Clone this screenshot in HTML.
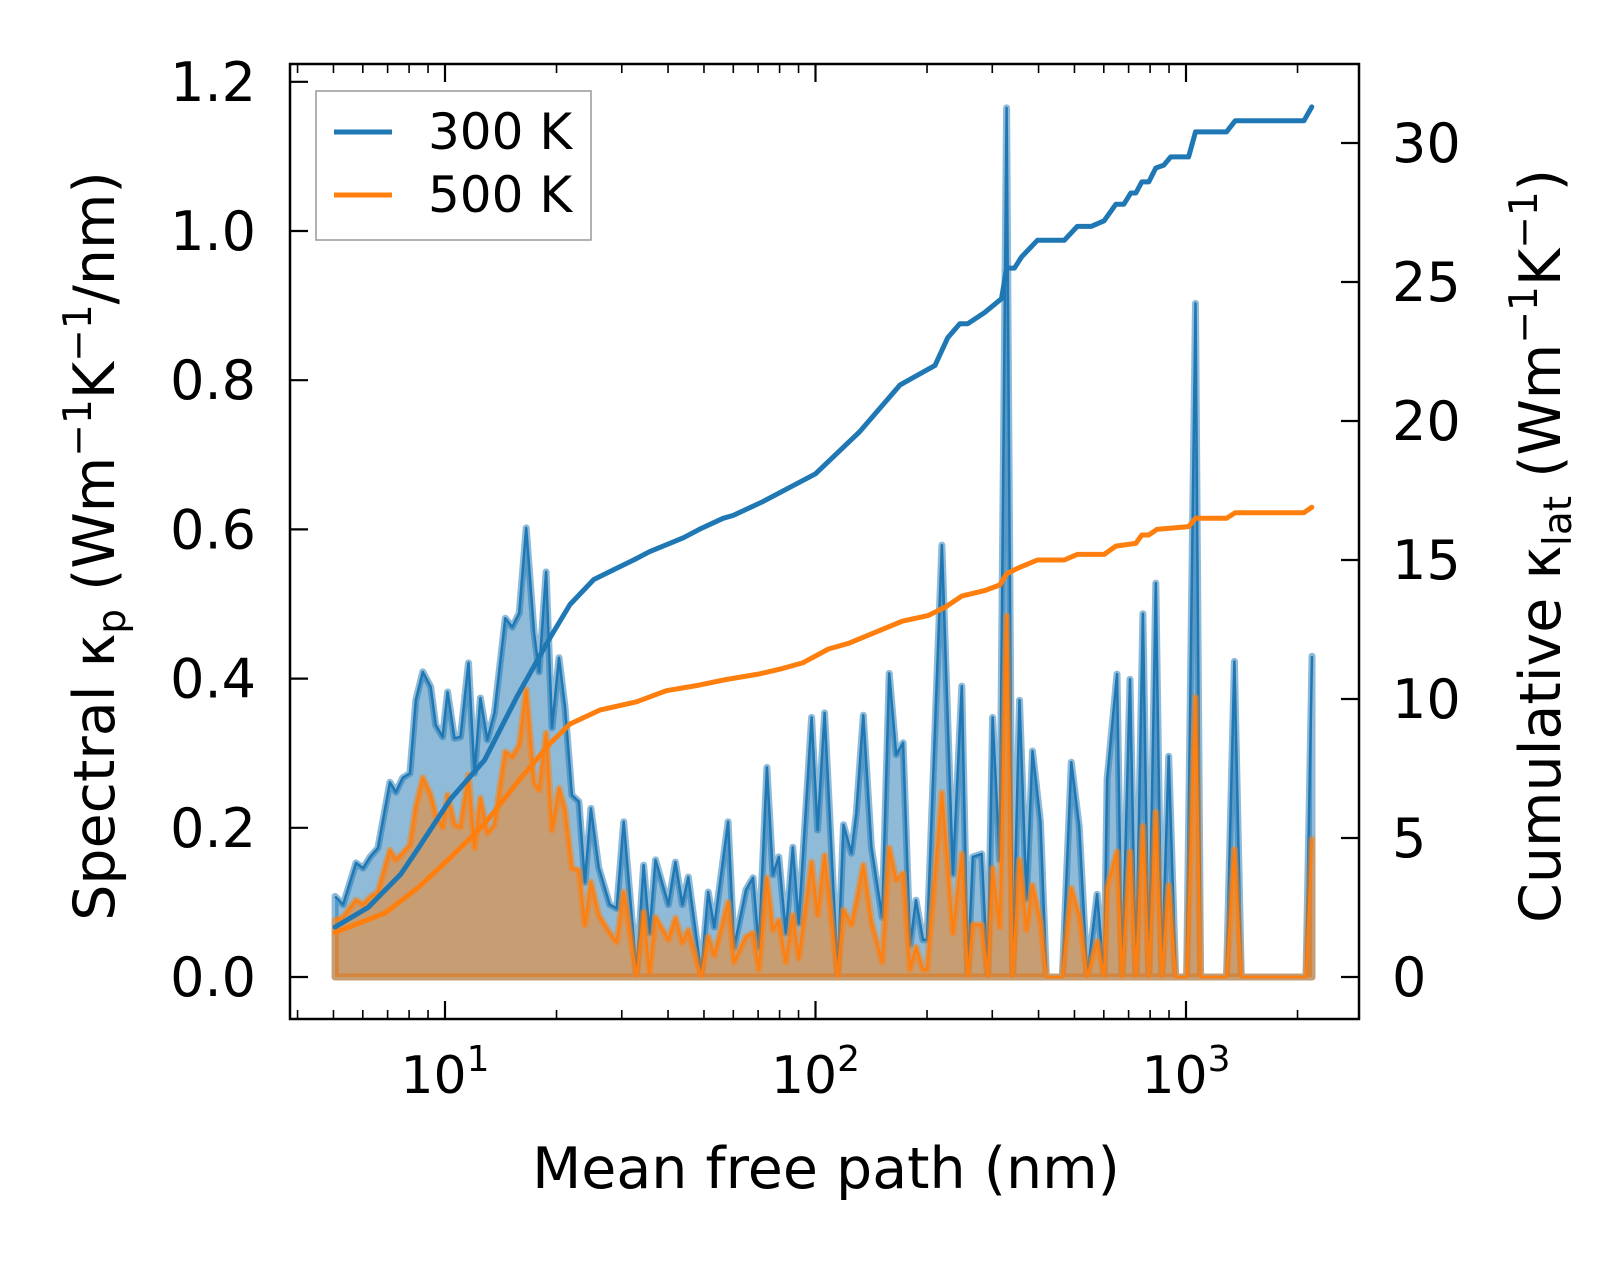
<!DOCTYPE html>
<html><head><meta charset="utf-8"><style>
html,body{margin:0;padding:0;background:#fff}
svg text{font-family:"DejaVu Sans","Liberation Sans",sans-serif;fill:#000}
</style></head><body>
<svg id="chart" width="1623" height="1259" viewBox="0 0 1623 1259" xmlns="http://www.w3.org/2000/svg">
<g id="plot"></g>
</svg>
<script>
// Spectral data (shared x)
const mfp = [5.05,5.31,5.75,6.01,6.28,6.59,7.10,7.37,7.69,8.04,8.34,8.71,9.15,9.44,9.85,10.16,10.61,11.01,11.57,12.01,12.46,13.01,13.59,14.55,15.19,15.86,16.56,17.40,17.95,18.74,19.45,20.31,21.08,22.01,22.98,23.86,24.76,26.00,27.84,29.07,30.36,32.89,34.35,35.65,36.99,40.09,41.87,43.72,45.37,49.15,51.33,53.27,58.08,60.28,64.93,67.81,70.36,73.93,76.72,79.62,83.15,86.83,90.1,97.6,101.3,105.8,114.7,119.0,125.0,128.9,134.6,141.5,151.4,158.1,165.1,172.4,180.0,186.8,195.1,200.0,219.4,234.9,248.3,257.7,265.8,281.0,291.6,300.7,314.1,328.0,340.4,355.4,371.1,385.1,404.6,420.0,463.6,490.1,515.0,541.1,575.6,601.1,612.3,651.4,671.8,706.0,732.6,764.9,793.8,828.9,860.2,898.3,938.1,1004,1061,1095,1286,1351,1410,2108,2188];
const spec300 = [0.108,0.097,0.153,0.146,0.161,0.173,0.261,0.248,0.267,0.273,0.371,0.409,0.389,0.338,0.322,0.382,0.320,0.322,0.421,0.273,0.374,0.318,0.354,0.481,0.469,0.488,0.602,0.461,0.409,0.543,0.334,0.428,0.362,0.244,0.235,0.127,0.226,0.147,0.097,0.092,0.208,0.005,0.150,0.059,0.157,0.097,0.154,0.097,0.134,0.005,0.114,0.067,0.208,0.040,0.117,0.133,0.040,0.281,0.137,0.161,0.059,0.174,0.072,0.348,0.197,0.354,0.005,0.204,0.166,0.220,0.351,0.174,0.080,0.407,0.298,0.314,0.043,0.103,0.050,0.050,0.579,0.138,0.390,0.005,0.161,0.165,0,0.348,0.157,1.165,0,0.371,0.105,0.303,0.209,0,0,0.288,0.202,0,0.111,0,0.265,0.406,0,0.399,0,0.487,0,0.528,0,0.296,0,0,0.903,0,0,0.423,0,0,0.43];
const spec500 = [0.076,0.080,0.103,0.097,0.107,0.114,0.170,0.157,0.166,0.177,0.228,0.267,0.244,0.217,0.201,0.244,0.204,0.201,0.271,0.173,0.240,0.193,0.204,0.302,0.295,0.311,0.385,0.260,0.251,0.327,0.197,0.253,0.224,0.146,0.143,0.070,0.127,0.083,0.059,0.047,0.114,0,0.087,0.005,0.080,0.050,0.079,0.046,0.063,0,0.054,0.029,0.100,0.020,0.054,0.059,0.010,0.133,0.063,0.076,0.020,0.083,0.025,0.154,0.083,0.163,0,0.090,0.070,0.100,0.150,0.074,0.020,0.173,0.130,0.139,0.010,0.040,0.010,0.010,0.247,0.059,0.165,0,0.070,0.070,0,0.146,0.067,0.484,0,0.157,0.063,0.123,0.074,0,0,0.119,0.082,0,0.048,0,0.119,0.168,0,0.168,0,0.202,0,0.221,0,0.123,0,0,0.375,0,0,0.171,0,0,0.185];
// Cumulative data
const cumX300 = [5.05,6.20,7.60,8.44,10.35,12.78,15.66,19.21,21.74,25.21,29.07,32.28,35.65,43.98,48.55,56.3,59.9,72.1,100,131.3,169.2,210.1,227.6,245.1,257.7,286.1,317.8,328.0,344.5,359.7,397.2,469.4,508.6,554.4,601.1,646.9,679.7,709.7,732.6,759.6,793.8,828.9,870.9,909.1,1016,1061,1286,1358,2081,2186];
const cum300 = [1.8,2.5,3.7,4.6,6.4,7.8,10.1,12.2,13.4,14.3,14.7,15.0,15.3,15.8,16.1,16.5,16.6,17.1,18.1,19.6,21.3,22.0,23.0,23.5,23.5,23.9,24.4,25.5,25.5,25.9,26.5,26.5,27.0,27.0,27.2,27.8,27.8,28.2,28.2,28.6,28.6,29.1,29.2,29.5,29.5,30.4,30.4,30.8,30.8,31.3];
const cumX500 = [5.05,6.88,8.44,10.35,12.78,15.66,19.21,21.74,26.16,32.89,39.58,48.55,57.4,70.4,81.6,92.3,108.4,122.7,145.0,171.4,201.2,223.6,248.3,286.1,314.1,328.0,350.9,397.2,469.4,508.6,601.1,646.9,732.6,759.6,793.8,833.9,1016,1061,1286,1358,2081,2186];
const cum500 = [1.6,2.3,3.2,4.3,5.5,7.0,8.4,9.1,9.6,9.9,10.3,10.5,10.7,10.9,11.1,11.3,11.8,12.0,12.4,12.8,13.0,13.3,13.7,13.9,14.1,14.5,14.7,15.0,15.0,15.2,15.2,15.5,15.6,15.9,15.9,16.1,16.2,16.5,16.5,16.7,16.7,16.9];
const yTicksL = [0.0,0.2,0.4,0.6,0.8,1.0,1.2];
const yTicksR = [0,5,10,15,20,25,30];
const xDecades = [1,2,3];

const NS='http://www.w3.org/2000/svg';
const L=290,R=1359,T=64,B=1019;
function X(v){return 445+(Math.log10(v)-1)*370.5;}
function YL(v){return 977-v*746;}
function YR(v){return 977-v*27.8;}
const svg=document.getElementById('plot');
function mk(tag,attrs,parent){const e=document.createElementNS(NS,tag);for(const k in attrs)e.setAttribute(k,attrs[k]);(parent||svg).appendChild(e);return e;}

function series(ys,color,name){
  const g=mk('g',{});
  
  
  let pts=mfp.map((x,i)=>X(x).toFixed(1)+','+YL(ys[i]).toFixed(1));
  let poly=X(mfp[0]).toFixed(1)+','+YL(0)+' '+pts.join(' ')+' '+X(mfp[mfp.length-1]).toFixed(1)+','+YL(0);
  mk('polygon',{points:poly,fill:color,'fill-opacity':0.5,stroke:color,'stroke-opacity':0.5,'stroke-width':7,'stroke-linejoin':'round'},g);
  mk('polyline',{points:pts.join(' '),fill:'none',stroke:color,'stroke-width':2.5,'stroke-linejoin':'round'},g);
}
series(spec300,'#1f77b4','spectral-300k');
series(spec500,'#ff7f0e','spectral-500k');

function cum(xs,ys,color,name){
  const p=mk('polyline',{points:xs.map((x,i)=>X(x).toFixed(1)+','+YR(ys[i]).toFixed(1)).join(' '),fill:'none',stroke:color,'stroke-width':5,'stroke-linejoin':'round','stroke-linecap':'round'});
  
  
}
cum(cumX300,cum300,'#1f77b4','cumulative-300k');
cum(cumX500,cum500,'#ff7f0e','cumulative-500k');

const fr=mk('rect',{x:L,y:T,width:R-L,height:B-T,fill:'none',stroke:'#000','stroke-width':2.5});



for(const d of xDecades){
  const x=X(Math.pow(10,d));
  mk('line',{x1:x,x2:x,y1:B,y2:B-18,stroke:'#000','stroke-width':2.2});
  mk('line',{x1:x,x2:x,y1:T,y2:T+18,stroke:'#000','stroke-width':2.2});
  const t=mk('text',{x:x,y:1093,'font-size':52,'text-anchor':'middle'});
  
  
  t.innerHTML='10<tspan dy="-22" font-size="36">'+d+'</tspan>';
}
for(let d=0;d<=3;d++){for(let m=2;m<=9;m++){const v=m*Math.pow(10,d);const x=X(v);if(x<L+2||x>R-2)continue;
  mk('line',{x1:x,x2:x,y1:B,y2:B-9,stroke:'#000','stroke-width':1.6});
  mk('line',{x1:x,x2:x,y1:T,y2:T+9,stroke:'#000','stroke-width':1.6});}}
for(const v of yTicksL){const y=YL(v);
  mk('line',{x1:L,x2:L+18,y1:y,y2:y,stroke:'#000','stroke-width':2.2});
  const t=mk('text',{x:256,y:y+19,'font-size':54,'text-anchor':'end'});
  
  
  t.textContent=v.toFixed(1);}
for(const v of yTicksR){const y=YR(v);
  mk('line',{x1:R,x2:R-18,y1:y,y2:y,stroke:'#000','stroke-width':2.2});
  const t=mk('text',{x:1392,y:y+19,'font-size':54,'text-anchor':'start'});
  
  
  t.textContent=v;}
</script>
<svg style="position:absolute;left:0;top:0" width="1623" height="1259">
<text x="826" y="1188" font-size="57" text-anchor="middle">Mean free path (nm)</text>
<text transform="translate(114,546) rotate(-90)" font-size="57" text-anchor="middle">Spectral κ<tspan font-size="39" dy="11">p</tspan><tspan dy="-11"> (Wm</tspan><tspan font-size="39" dy="-23">−1</tspan><tspan dy="23">K</tspan><tspan font-size="39" dy="-23">−1</tspan><tspan dy="23">/nm)</tspan></text>
<text transform="translate(1560,546) rotate(-90)" font-size="57" text-anchor="middle">Cumulative κ<tspan font-size="39" dy="11">lat</tspan><tspan dy="-11"> (Wm</tspan><tspan font-size="39" dy="-23">−1</tspan><tspan dy="23">K</tspan><tspan font-size="39" dy="-23">−1</tspan><tspan dy="23">)</tspan></text>
<g>
<rect x="316" y="91" width="275" height="149" fill="#fff" fill-opacity="0.8" stroke="#999" stroke-width="1.5"/>
<line x1="334" x2="392" y1="132" y2="132" stroke="#1f77b4" stroke-width="5"/>
<text x="428" y="149" font-size="50">300 K</text>
<line x1="334" x2="392" y1="195" y2="195" stroke="#ff7f0e" stroke-width="5"/>
<text x="428" y="212" font-size="50">500 K</text>
</g>
</svg>
</body></html>
